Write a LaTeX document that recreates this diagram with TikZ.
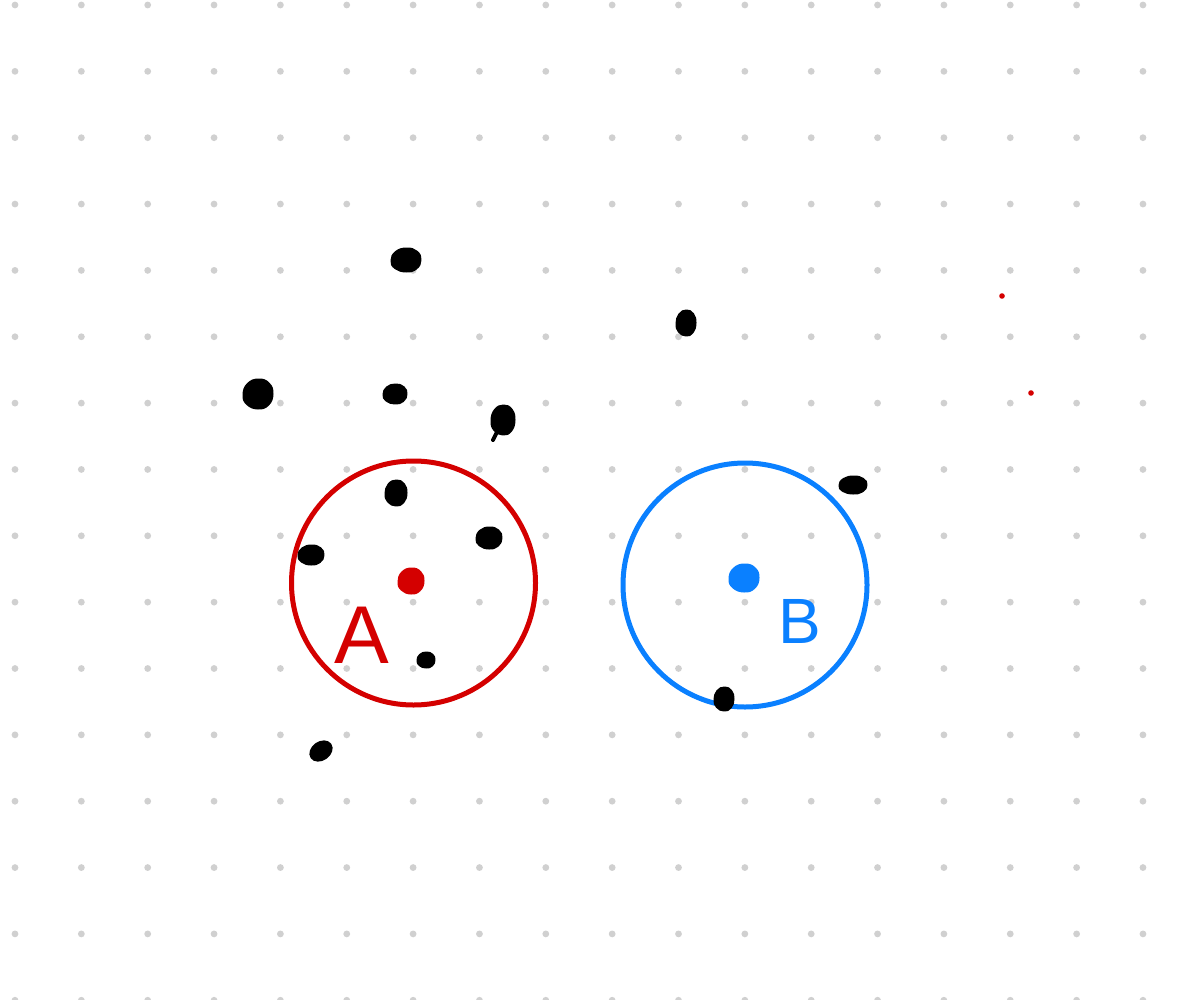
\documentclass[tikz,border=0pt]{standalone}
\usepackage{fontspec}
\setmainfont{Liberation Sans}
\definecolor{gridc}{HTML}{D0D0D0}
\definecolor{redc}{HTML}{D40000}
\definecolor{bluec}{HTML}{0A80FF}
\begin{document}
\begin{tikzpicture}[x=1pt,y=-1pt,
  griddot/.style={fill=gridc},
  blob/.style={fill=black,draw=black,line width=3pt,line join=round},
  ring/.style={line width=5pt}]
\useasboundingbox (0,0) rectangle (1201,1000);
\fill[white] (0,0) rectangle (1201,1000);
% dot grid
\foreach \i in {0,...,17}{
  \foreach \j in {0,...,15}{
    \fill[griddot] ({15+66.35*\i},{5+66.35*\j}) circle (3.4);
  }
}
% circles
\draw[ring,redc] (413.5,583) circle (122);
\draw[ring,bluec] (745,585) circle (122);
% blobs
\newcommand{\myblob}[5]{%
  \filldraw[blob,#5,shift={(#1,#2)}] plot[smooth cycle,tension=0.8] coordinates
  {(#3,0) (0.7*#3,0.75*#4) (0,#4) (-0.75*#3,0.7*#4) (-#3,0.05*#4) (-0.7*#3,-0.7*#4) (0.05*#3,-#4) (0.75*#3,-0.72*#4)};}
\myblob{406}{260}{14}{11}{}
\myblob{258}{394}{14}{14}{}
\myblob{395}{394}{11}{9}{}
\myblob{503}{420}{11}{14}{}
\draw[black,line width=4pt,line cap=round] (499,428) -- (493,440);
\myblob{686}{323}{9}{12}{}
\myblob{853}{485}{13}{8}{}
\myblob{396}{493}{10}{12}{}
\myblob{489}{538}{12}{10}{}
\myblob{311}{555}{12}{9}{}
\myblob{426}{660}{8}{7}{}
\begin{scope}[shift={(321,751)},rotate=35]
\filldraw[blob] (0,0) ellipse (11 and 8);
\end{scope}
\myblob{724}{699}{9}{11}{}
\myblob{411}{581}{12}{12}{redc,draw=redc}
\myblob{744}{578}{14}{13}{bluec,draw=bluec}
% small red dots
\fill[redc] (1002,296) circle (2.8);
\fill[redc] (1031,393) circle (2.8);
% labels
\node[text=redc,font=\fontsize{82}{84}\selectfont,inner sep=0pt,anchor=base] (labA) at (362,663) {A};
\node[text=bluec,font=\fontsize{64}{66}\selectfont,inner sep=0pt,anchor=base] (labB) at (800,643) {B};
\end{tikzpicture}
\end{document}
